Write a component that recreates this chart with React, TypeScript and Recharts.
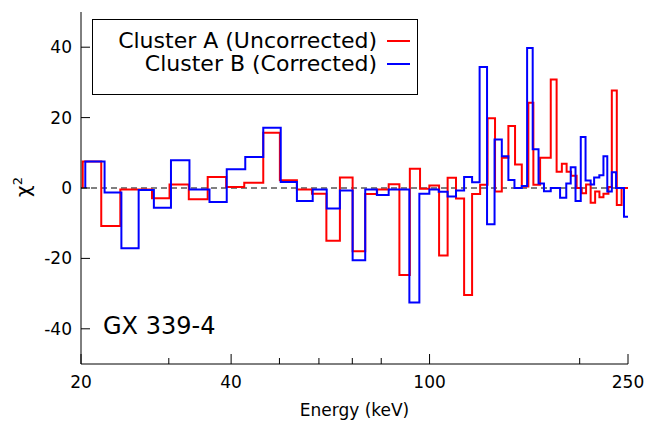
import React from "react"
import { ComposedChart, Line, XAxis, YAxis, ReferenceLine, Legend } from "recharts"

// bin edges (keV) and chi values
const redEdges = [20.16, 21.96, 23.98, 27.76, 30.1, 32.9, 35.9, 39.1, 42.5, 46.4, 50.1, 54.2, 58.1, 62.1, 66.1, 70.1, 74.3, 78.5, 82.8, 87.0, 91.3, 95.7, 99.9, 104.5, 108.7, 113.0, 117.3, 121.7, 126.3, 130.7, 135.3, 139.6, 143.9, 148.4, 153.1, 157.8, 161.5, 166.6, 175, 179.8, 184.2, 188.3, 192.2, 197.2, 201.9, 206, 210.4, 214.8, 219.1, 223.2, 228.4, 232, 237.4, 242.7, 250]
const redChi = [7.5, -10.8, -0.4, -2.9, 1.0, -3.2, 3.1, 0.3, 1.5, 15.7, 2.2, -0.4, -1.6, -15, 3.0, -18, -1.7, -0.4, 1.1, -24.7, 5.5, -0.2, 0.7, -19.2, 2.9, -3.0, -30.4, -1.7, 0.9, 19.8, -1.0, 8.6, 17.6, 6.7, 0.4, 24.2, 0.9, 8.6, 30.8, 4.6, 6.9, 4.6, 3.5, 0.0, -1.5, 1.0, -4.2, -1.0, -2.6, -1.6, 0.3, 27.7, -4.8, 0]

const blueEdges = [20.4, 22.3, 24.1, 26.1, 28.0, 30.3, 33.0, 36.2, 39.2, 42.7, 46.4, 50.3, 54.2, 58.3, 62.2, 66.1, 70.1, 74.3, 78.4, 82.8, 91.1, 95.4, 99.9, 104.3, 108.7, 113.0, 117.3, 121.7, 126.0, 130.4, 135, 139.6, 143.9, 148.0, 153.1, 156.9, 161.0, 165.4, 169.6, 175, 182.7, 188.0, 191.9, 196.2, 201, 205.5, 210.4, 213.8, 219, 223.2, 227.2, 232, 236.6, 245.4, 250]
const blueChi = [7.5, -1.3, -17.1, -0.6, -5.6, 7.9, -0.4, -4, 5.3, 8.8, 17.1, 1.7, -3.7, -0.4, -5.8, -0.7, -20.5, -0.4, -2, -0.4, -32.5, -1.6, -0.4, -1.1, -2.4, -0.7, 3.1, 1.6, 34.4, -10.3, 13.8, 9.0, 2.3, 0, 0.6, 39.8, 11, 1.3, -0.9, 0, -2.8, 1.3, 5.9, -3.7, 14.5, 2.1, 1.0, 3.0, 3.6, 9.0, -1.0, 4.5, 0, -8.2]

const xTicks = [20, 30, 40, 50, 60, 70, 80, 90, 100, 200, 250]
const xLabelled = [20, 40, 100, 250]
const yTicks = [-40, -20, 0, 20, 40]

const series = [
  { name: "Cluster A (Uncorrected)", color: "#ff0000", edges: redEdges, chi: redChi },
  { name: "Cluster B (Corrected)", color: "#0000ff", edges: blueEdges, chi: blueChi },
]

// histogram as a stepAfter line, starting from zero
function toSteps(edges: number[], chi: number[]) {
  const pts = [{ energy: edges[0], chi: 0 }]
  chi.forEach((v, i) => pts.push({ energy: edges[i], chi: v }))
  pts.push({ energy: edges[edges.length - 1], chi: chi[chi.length - 1] })
  return pts
}

const font = "DejaVu Sans, sans-serif"

const BottomTick = (p: any) => {
  const major = xLabelled.includes(p.payload.value)
  return (
    <g>
      <line x1={p.x} x2={p.x} y1={p.y} y2={p.y - (major ? 10 : 6)} stroke="#000" />
      {major && (
        <text x={p.x} y={p.y + 24} textAnchor="middle" fontSize={17} fontFamily={font} fill="#000">
          {p.payload.value}
        </text>
      )}
    </g>
  )
}

const TopTick = (p: any) => {
  const major = xLabelled.includes(p.payload.value)
  return <line x1={p.x} x2={p.x} y1={p.y} y2={p.y + (major ? 10 : 6)} stroke="#000" />
}

const LeftTick = (p: any) => (
  <g>
    <line x1={p.x} x2={p.x + 9} y1={p.y} y2={p.y} stroke="#000" />
    <text x={p.x - 9} y={p.y + 6} textAnchor="end" fontSize={17} fontFamily={font} fill="#000">
      {p.payload.value}
    </text>
  </g>
)

const RightTick = (p: any) => <line x1={p.x} x2={p.x - 9} y1={p.y} y2={p.y} stroke="#000" />

const LegendBox = () => (
  <div
    style={{
      border: "1px solid #000",
      width: 324,
      height: 65,
      boxSizing: "content-box",
      paddingTop: 9,
      fontFamily: font,
      fontSize: 22,
      lineHeight: "23px",
      background: "#fff",
    }}
  >
    {series.map((s) => (
      <div key={s.name} style={{ display: "flex", justifyContent: "flex-end", alignItems: "center", height: 23 }}>
        <span>{s.name}</span>
        <span style={{ display: "inline-block", width: 23, height: 2, background: s.color, marginLeft: 10, marginRight: 7 }} />
      </div>
    ))}
  </div>
)

export default function App() {
  return (
    <div style={{ position: "relative", width: 651, height: 424, fontFamily: font }}>
      <style>{`body{margin:0}`}</style>
      <ComposedChart width={651} height={424} margin={{ top: 12, right: 23, left: 0, bottom: 0 }}>
        <XAxis
          dataKey="energy"
          type="number"
          scale="log"
          domain={[20, 250]}
          allowDataOverflow
          ticks={xTicks}
          tick={BottomTick}
          tickSize={0}
          tickMargin={0}
          tickLine={false}
          height={60}
          axisLine={{ stroke: "#000" }}
          label={{ value: "Energy (keV)", position: "insideBottom", offset: 8, fontSize: 17, fill: "#000", fontFamily: font }}
        />
        <XAxis
          xAxisId="top"
          orientation="top"
          type="number"
          scale="log"
          domain={[20, 250]}
          allowDataOverflow
          ticks={xTicks}
          tick={TopTick}
          tickSize={0}
          tickMargin={0}
          tickLine={false}
          height={0}
          axisLine={{ stroke: "#000" }}
        />
        <YAxis
          type="number"
          domain={[-50, 50]}
          allowDataOverflow
          ticks={yTicks}
          tick={LeftTick}
          tickSize={0}
          tickMargin={0}
          tickLine={false}
          width={81}
          axisLine={{ stroke: "#000" }}
          label={{
            content: () => (
              <text x={30} y={187} transform="rotate(-90 30 187)" textAnchor="middle" fontSize={20} fontFamily={font} fill="#000">
                χ<tspan dy={-8} fontSize={13}>2</tspan>
              </text>
            ),
          }}
        />
        <YAxis
          yAxisId="right"
          orientation="right"
          type="number"
          domain={[-50, 50]}
          allowDataOverflow
          ticks={yTicks}
          tick={RightTick}
          tickSize={0}
          tickMargin={0}
          tickLine={false}
          width={0}
          axisLine={{ stroke: "#000" }}
        />
        <ReferenceLine y={0} stroke="#000" strokeDasharray="6 4" />
        {series.map((s) => (
          <Line
            key={s.name}
            name={s.name}
            data={toSteps(s.edges, s.chi)}
            dataKey="chi"
            type="stepAfter"
            stroke={s.color}
            strokeWidth={2}
            dot={false}
            isAnimationActive={false}
          />
        ))}
        <Legend
          layout="vertical"
          align="center"
          verticalAlign="middle"
          content={LegendBox}
          wrapperStyle={{ left: 92, top: 19, width: 326 }}
        />
      </ComposedChart>
      <div style={{ position: "absolute", left: 103, top: 312, fontSize: 24, fontFamily: font, color: "#000" }}>
        GX 339-4
      </div>
    </div>
  )
}
